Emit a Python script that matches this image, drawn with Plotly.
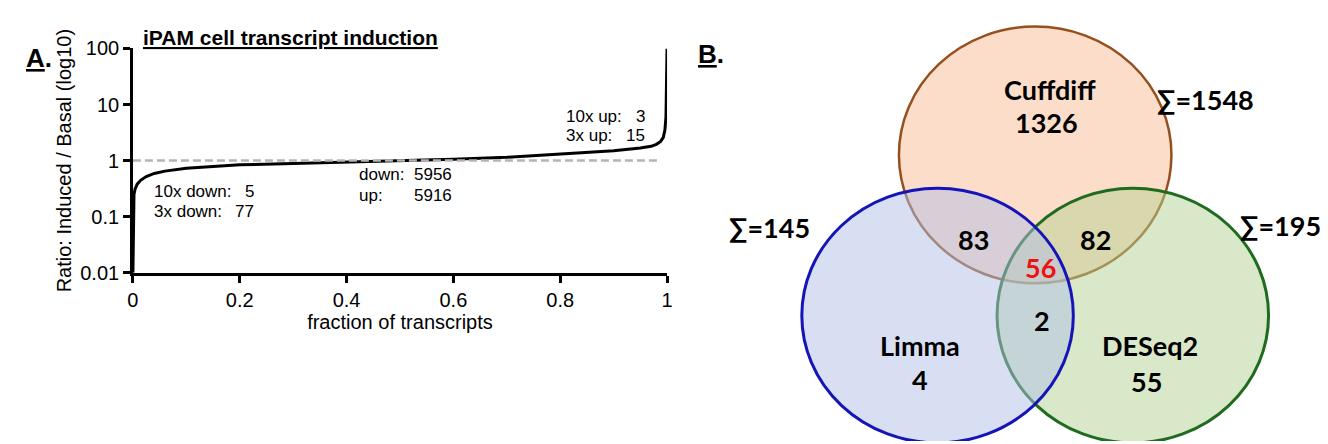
import math
import plotly.graph_objects as go

# ---------------- Panel A data ----------------
fraction = [0, 0.001, 0.002, 0.004, 0.008, 0.015, 0.025, 0.04, 0.06, 0.1, 0.15, 0.2,
            0.3, 0.4, 0.5, 0.6, 0.7, 0.8, 0.9, 0.95, 0.97, 0.98, 0.988, 0.993,
            0.996, 0.998, 0.999, 1.0]
ratio = [0.01, 0.17, 0.25, 0.31, 0.38, 0.45, 0.52, 0.59, 0.65, 0.73, 0.79, 0.84,
         0.89, 0.94, 0.99, 1.06, 1.15, 1.3, 1.5, 1.68, 1.8, 1.95, 2.2, 2.6,
         3.5, 6, 15, 100]
baseline_ratio = 1.0
baseline_span = [0.0, 0.985]

x_tickvals = [0, 0.2, 0.4, 0.6, 0.8, 1]
x_ticktext = ["0", "0.2", "0.4", "0.6", "0.8", "1"]
y_tickvals = [0.01, 0.1, 1, 10, 100]
y_ticktext = ["0.01", "0.1", "1", "10", "100"]

count_labels = ["10x down:", "3x down:", "down:", "up:", "10x up:", "3x up:"]
count_values = [5, 77, 5956, 5916, 3, 15]

# ---------------- Panel B data ----------------
set_names = ["Cuffdiff", "Limma", "DESeq2"]
set_totals = [1548, 145, 195]
only_counts = [1326, 4, 55]
cuff_limma = 83
cuff_deseq = 82
limma_deseq = 2
all_three = 56

W, H = 1328, 444
FA = "Liberation Sans, Arial, sans-serif"
FB = "Lato, Open Sans, sans-serif"

fig = go.Figure()

fig.add_trace(go.Scatter(
    x=fraction, y=ratio, mode="lines",
    line=dict(color="black", width=3), showlegend=False, xaxis="x", yaxis="y"))
fig.add_trace(go.Scatter(
    x=baseline_span, y=[baseline_ratio, baseline_ratio], mode="lines",
    line=dict(color="#b4b4b4", width=2.5, dash="8px,4px"), hoverinfo="skip",
    showlegend=False, xaxis="x", yaxis="y"))

# invisible trace to create Venn axes
fig.add_trace(go.Scatter(x=[700], y=[400], mode="markers", marker=dict(opacity=0),
                         hoverinfo="skip", showlegend=False, xaxis="x2", yaxis="y2"))

fig.update_layout(
    width=W, height=H, margin=dict(l=0, r=0, t=0, b=0),
    paper_bgcolor="white", plot_bgcolor="white",
    font=dict(family=FA, size=20, color="black"),
    xaxis=dict(domain=[120 / W, 659 / W], range=[0, 1], anchor="y",
               tickvals=x_tickvals, ticktext=x_ticktext,
               showgrid=False, zeroline=False, showline=True, linecolor="black",
               linewidth=2.5, ticks="outside", ticklen=7, tickwidth=2.5,
               tickcolor="black", tickfont=dict(size=20, family=FA),
               title=dict(text="fraction of transcripts", font=dict(size=20, family=FA),
                          standoff=0)),
    yaxis=dict(domain=[1 - 267 / H, 1 - 31 / H], type="log", range=[-2, 2], anchor="x",
               tickvals=y_tickvals, ticktext=y_ticktext,
               showgrid=False, zeroline=False, showline=True, linecolor="black",
               linewidth=2.5, ticks="outside", ticklen=7, tickwidth=2.5,
               tickcolor="black", tickfont=dict(size=20, family=FA),
               title=dict(text="Ratio: Induced / Basal (log10)",
                          font=dict(size=20, family=FA), standoff=4)),
    xaxis2=dict(domain=[0.5, 1], range=[664, 1328], anchor="y2", visible=False,
                fixedrange=True),
    yaxis2=dict(domain=[0, 1], range=[444, 0], anchor="x2", visible=False,
                fixedrange=True),
)

ann = []
# Panel labels
ann.append(dict(text="<b><u>A</u>.</b>", x=10, y=41, xref="paper", yref="paper",
                showarrow=False, xanchor="left", yanchor="middle",
                font=dict(size=26, family=FA)))
ann.append(dict(text="<b><u>B</u>.</b>", x=688, y=37, xref="paper", yref="paper",
                showarrow=False, xanchor="left", yanchor="middle",
                font=dict(size=26, family=FA)))
# Panel A title
ann.append(dict(text="<b><u>iPAM cell transcript induction</u></b>", x=128, y=19,
                xref="paper", yref="paper", showarrow=False, xanchor="left",
                yanchor="middle", font=dict(size=21, family=FA)))

for a in ann:
    a["x"] = a["x"] / W
    a["y"] = 1 - a["y"] / H

# Count annotations in data coordinates (panel A)
lab_pos = [(0.035, 0.276), (0.035, 0.126), (0.42, 0.56), (0.42, 0.243),
           (0.807, 6.2), (0.807, 2.85)]
num_pos = [(0.23, "right"), (0.23, "right"), (0.522, "left"), (0.522, "left"),
           (0.962, "right"), (0.962, "right")]
for lab, val, (lx, ly), (nx, nanc) in zip(count_labels, count_values, lab_pos, num_pos):
    ann.append(dict(text=lab, x=lx, y=math.log10(ly), xref="x", yref="y",
                    showarrow=False, xanchor="left", yanchor="middle",
                    font=dict(size=17, family=FA)))
    ann.append(dict(text=str(val), x=nx, y=math.log10(ly), xref="x", yref="y",
                    showarrow=False, xanchor=nanc, yanchor="middle",
                    font=dict(size=17, family=FA)))

# ---------------- Venn shapes ----------------
circles = [
    # (x0, x1, y0, y1, fill, line, width)
    (893, 1168, 8, 278, "rgba(252,221,202,1)", "#94501E", 2.5),        # Cuffdiff
    (992, 1266, 178, 446, "rgba(179,209,145,0.5)", "#1F6B1F", 3),       # DESeq2
    (795, 1069, 178, 446, "rgba(177,191,229,0.5)", "#1414B8", 3),       # Limma
]
shapes = []
for x0, x1, y0, y1, fc, lc, lw in circles:
    shapes.append(dict(type="circle", xref="x2", yref="y2", x0=x0, x1=x1, y0=y0, y1=y1,
                       fillcolor=fc, line=dict(color=lc, width=lw), layer="above"))
fig.update_layout(shapes=shapes)


def vtext(txt, x, y, color="black", size=27):
    return dict(text="<b>%s</b>" % txt, x=x, y=y, xref="x2", yref="y2", showarrow=False,
                xanchor="center", yanchor="middle",
                font=dict(size=size, family=FB, color=color))


ann.append(vtext(set_names[0], 1045, 74))
ann.append(vtext(str(only_counts[0]), 1042, 109))
ann.append(vtext(set_names[1], 914, 343))
ann.append(vtext(str(only_counts[1]), 914, 379))
ann.append(vtext(set_names[2], 1146, 344))
ann.append(vtext(str(only_counts[2]), 1143, 381))
ann.append(vtext(str(cuff_limma), 968, 232))
ann.append(vtext(str(cuff_deseq), 1091, 232))
ann.append(vtext(str(limma_deseq), 1037, 317))
ann.append(vtext(str(all_three), 1036, 261, color="#EE1111"))
ann.append(vtext("∑=%d" % set_totals[0], 1202, 85))
ann.append(vtext("∑=%d" % set_totals[1], 762, 219))
ann.append(vtext("∑=%d" % set_totals[2], 1278, 217))

fig.update_layout(annotations=ann)

fig.write_html("out.html")
